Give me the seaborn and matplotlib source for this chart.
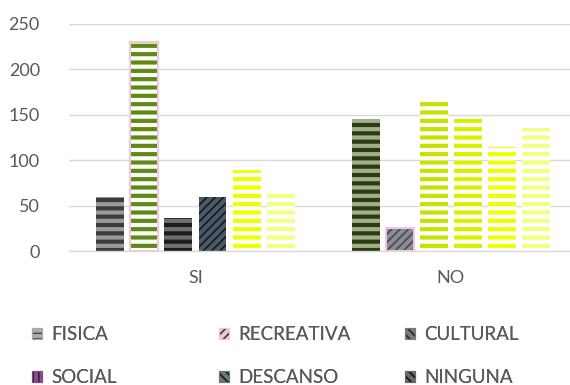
import pandas as pd
import matplotlib
matplotlib.use('Agg')
import matplotlib.pyplot as plt
from matplotlib.patches import Patch, Rectangle
import seaborn as sns

grupos = ['SI', 'NO']
actividades = ['FISICA', 'RECREATIVA', 'CULTURAL', 'SOCIAL', 'DESCANSO', 'NINGUNA']
valores_si = [60, 230, 36, 60, 89, 66]
valores_no = [145, 25, 168, 145, 115, 135]

rows = []
for act, v_si, v_no in zip(actividades, valores_si, valores_no):
    rows.append({'grupo': 'SI', 'actividad': act, 'valor': v_si})
    rows.append({'grupo': 'NO', 'actividad': act, 'valor': v_no})
df = pd.DataFrame(rows)

# per bar look (excel texture fills faked with hatches): (face, hatch colour, hatch)
estilos = {
    'FISICA':     [('#3c3c3c', '#9a9a9a', '--'), ('#2d3a12', '#9fb08a', '--')],
    'RECREATIVA': [('#ffffff', '#5f8a10', '--'), ('#4a4a4a', '#8a8a9a', '////')],
    'CULTURAL':   [('#1c1c1c', '#707070', '--'), ('#ffffff', '#c6e000', '--')],
    'SOCIAL':     [('#1a1a1a', '#4a5a6a', '////'), ('#ffffff', '#d8f000', '--')],
    'DESCANSO':   [('#ffffff', '#eeff00', '--'), ('#ffffff', '#eeff00', '--')],
    'NINGUNA':    [('#ffffff', '#f2ff80', '--'), ('#ffffff', '#f2ff80', '--')],
}
leyenda = {
    'FISICA': ('#444444', '#aaaaaa', '---'),
    'RECREATIVA': ('#3a3a3a', '#8a8a8a', '////'),
    'CULTURAL': ('#2a2a2a', '#7a7a7a', '\\\\\\\\'),
    'SOCIAL': ('#222222', '#8a4a8a', '|||'),
    'DESCANSO': ('#1a1a1a', '#6a7a6a', '\\\\\\\\'),
    'NINGUNA': ('#111111', '#6a6a6a', '\\\\\\\\'),
}
rosa = '#f4c6dc'
gris = '#595959'

sns.set_theme(style='white')
plt.rcParams['font.family'] = ['Lato', 'DejaVu Sans']
plt.rcParams['hatch.linewidth'] = 3.0

fig = plt.figure(figsize=(5.7, 3.85), dpi=100)
ax = fig.add_axes([69 / 570, 1 - 251 / 385, 1 - 69 / 570, (251 - 24) / 385])

sns.barplot(data=df, x='grupo', y='valor', hue='actividad', order=grupos,
            hue_order=actividades, width=0.8, gap=0.18, legend=False, ax=ax)

for i, act in enumerate(actividades):
    for j, bar in enumerate(ax.containers[i]):
        face, hcol, hatch = estilos[act][j]
        bar.set_facecolor(face)
        bar.set_edgecolor(hcol)
        bar.set_hatch(hatch)
        bar.set_linewidth(0)
        if act == 'RECREATIVA':
            bb = bar.get_bbox()
            ax.add_patch(Rectangle((bb.x0, bb.y0), bb.width, bb.height, fill=False,
                                   edgecolor=rosa, linewidth=1.5, zorder=bar.get_zorder() + 0.1))

ax.set_ylim(0, 250)
ax.set_xlim(-0.495, 1.466)
ax.set_yticks([0, 50, 100, 150, 200, 250])
ax.yaxis.grid(True, color='#d9d9d9', linewidth=1)
ax.set_axisbelow(True)
for s in ['top', 'right', 'left']:
    ax.spines[s].set_visible(False)
ax.spines['bottom'].set_color('#d9d9d9')
ax.spines['bottom'].set_linewidth(1)
ax.set_xlabel('')
ax.set_ylabel('')
ax.tick_params(axis='both', length=0, labelsize=13, colors=gris)
ax.tick_params(axis='x', pad=14)
ax.tick_params(axis='y', pad=21)

handles = {}
for act in actividades:
    face, hcol, hatch = leyenda[act]
    ec = rosa if act == 'RECREATIVA' else hcol
    handles[act] = Patch(facecolor=face, edgecolor=ec, hatch=hatch, linewidth=0.8)

# excel lays the legend out row by row, with equal column widths
col_x = [15, 202, 388]
for c in range(3):
    labs = [actividades[c], actividades[c + 3]]
    leg = fig.legend(handles=[handles[l] for l in labs], labels=labs, loc='upper left',
                     bbox_to_anchor=(col_x[c] / 570, 1 - 309 / 385), frameon=False,
                     fontsize=13.5, labelcolor=gris, handlelength=0.55, handleheight=0.55,
                     handletextpad=0.5, labelspacing=1.4)
    fig.add_artist(leg)

fig.savefig('out.png', dpi=100)
